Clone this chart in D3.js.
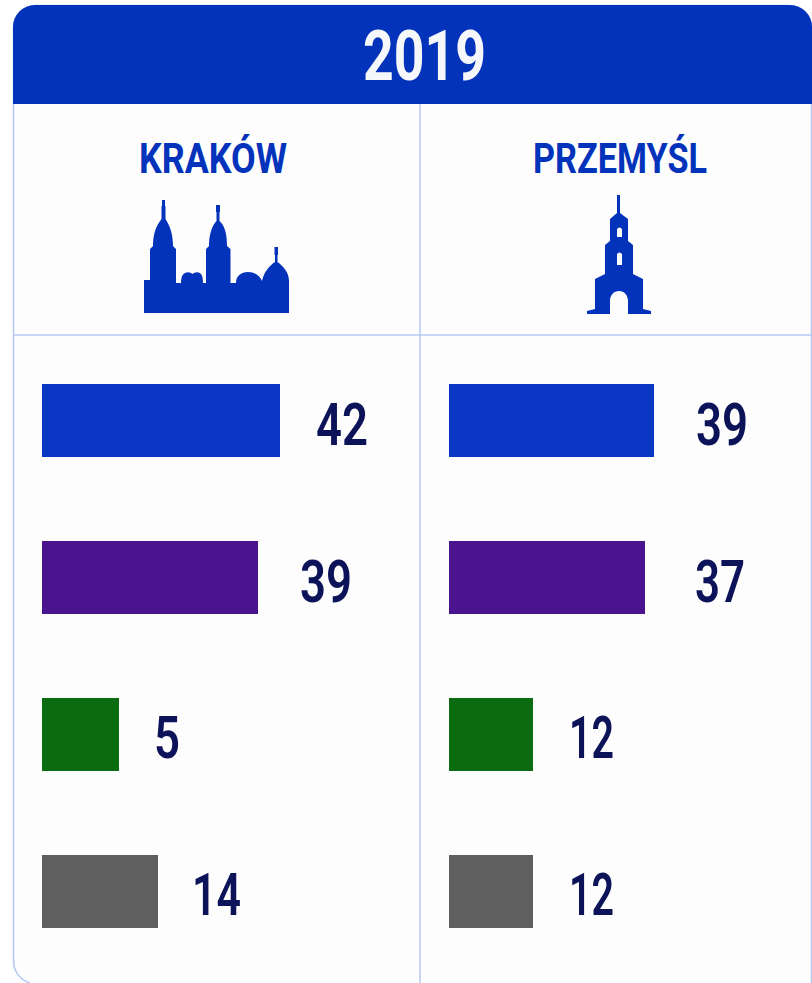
<!DOCTYPE html>
<html>
<head>
<meta charset="utf-8">
<title>2019</title>
<script src="https://d3js.org/d3.v7.min.js"></script>
<style>
    html, body { margin: 0; padding: 0; background: #fff; overflow: hidden; }
    svg { display: block; }
    text { font-family: Roboto, sans-serif; }
</style>
</head>
<body>
<div id="chart"></div>
<script>
// chart values
var year = "2019";
var cities = ["KRAKÓW", "PRZEMYŚL"];
var rows = ["r1", "r2", "r3", "r4"];
var rowColors = ["#0a38c4", "#4a148f", "#0b6b10", "#5f5f5f"];
var krakowValues = [42, 39, 5, 14];
var przemyslValues = [39, 37, 12, 12];

var width = 812, height = 983;
var blue = "#0433bb", line = "#b4c8f0", ink = "#0c1358";

// the bars in the picture are not proportional to their numbers,
// so each column gets its own piecewise scale
var xKrakow = d3.scaleLinear().domain([5, 14, 39, 42]).range([119, 158, 258, 280]);
var xPrzemysl = d3.scaleLinear().domain([12, 37, 39]).range([533, 645, 654]);

var scaleY = d3.scaleBand()
    .domain(rows)
    .range([384, 928])
    .paddingInner(0.535);

var svg = d3.select("#chart").append("svg")
    .attr("width", width)
    .attr("height", height);

// card outline: rounded left corners, runs off the right and bottom edges
svg.append("path")
    .attr("d", "M13.5 27 A22 22 0 0 1 35 5.5 H790 A22 22 0 0 1 811.5 27 V1000 H13.5 Z")
    .attr("fill", "#fdfdfe")
    .attr("stroke", line)
    .attr("stroke-width", 1.5);
svg.append("path")
    .attr("d", "M12 960 H13.5 A23 23 0 0 0 30 983 H12 Z")
    .attr("fill", "#fff");
svg.append("path")
    .attr("d", "M13.5 960 A23 23 0 0 0 30 983")
    .attr("fill", "none")
    .attr("stroke", line)
    .attr("stroke-width", 1.5);

// header band
svg.append("path")
    .attr("d", "M13 27 A22 22 0 0 1 35 5 H790 A22 22 0 0 1 812 27 V104 H13 Z")
    .attr("fill", blue);

fitText(svg.append("text"), year, 363, 80, 123, 70, "#f6f7fb", 700);

// grid lines
svg.append("line").attr("x1", 420).attr("x2", 420).attr("y1", 104).attr("y2", 983)
    .attr("stroke", line).attr("stroke-width", 1.5);
svg.append("line").attr("x1", 13).attr("x2", 812).attr("y1", 335).attr("y2", 335)
    .attr("stroke", line).attr("stroke-width", 1.5);

// city names
fitText(svg.append("text"), cities[0], 139, 173, 148, 42, blue, 700);
fitText(svg.append("text"), cities[1], 533, 173, 174, 42, blue, 700);

// skyline icons
svg.append("path").attr("fill", blue).attr("d",
    "M144 313 V280 H150 V249 L153 246 C153 234 156 226 161.500 219 V206 H162 V200 H165 V206 H165.500 V219 " +
    "C170 226 173 234 173 246 L176 249 V283 H181 C181 276 183 273 187 272.500 C189 272 191 273 192.500 274 " +
    "C194 273 196 272 198 272.500 C202 273 203 277 203 283 H206 V249 L209 246 C209 234 212 226 216.500 221 V212 H216 V205 H220 V212 H219.500 V221 " +
    "C225 226 227 234 227 246 L230.500 249 V283 H236 C236 276 241 272 248 272 C255 272 260 276 262 281 " +
    "C264 272 269 266 275 262 V255 H274.500 V247 H278 V255 H277.500 V262 C283 266 289 272 289 281 V313 Z");

svg.append("path").attr("fill", blue).attr("fill-rule", "evenodd").attr("d",
    "M587 314 V311 L595 309 V279 L605 274 V245 L610 241 V219 L617 213 V205 H617 V195 H620 V205 H620 V213 L628 219 " +
    "V241 L633 245 V274 L643 279 V309 L651 311 V314 H628 V301 C628 295 624 291 619 291 C614 291 610 295 610 301 V314 Z " +
    "M617 229 Q619.500 226 622 229 V237 H617 Z M617 254 Q619.500 251 622 254 V265 H617 Z");

// bars and value labels, gaps between bar end and number
drawColumn(krakowValues, xKrakow, 42, [36, 42, 35, 34], [52, 52, 26, 49]);
drawColumn(przemyslValues, xPrzemysl, 449, [42, 50, 36, 36], [52, 50, 45, 45]);

function drawColumn(values, scaleX, x0, gaps, widths) {
    var g = svg.append("g");
    g.selectAll("rect")
        .data(values)
        .enter()
        .append("rect")
        .attr("x", x0)
        .attr("y", function(d, i) { return scaleY(rows[i]); })
        .attr("width", function(d) { return scaleX(d) - x0; })
        .attr("height", scaleY.bandwidth())
        .attr("fill", function(d, i) { return rowColors[i]; });

    values.forEach(function(d, i) {
        var baseline = scaleY(rows[i]) + scaleY.bandwidth() / 2 + 24;
        fitText(g.append("text"), d, scaleX(d) + gaps[i], baseline, widths[i], 60, ink, 600);
    });
}

// source type is condensed, so squeeze Roboto to the measured width
function fitText(sel, str, x, y, w, size, color, weight) {
    sel.attr("x", x)
        .attr("y", y)
        .attr("textLength", w)
        .attr("lengthAdjust", "spacingAndGlyphs")
        .attr("font-size", size)
        .attr("font-weight", weight)
        .attr("fill", color)
        .text(str);
}
</script>
</body>
</html>
